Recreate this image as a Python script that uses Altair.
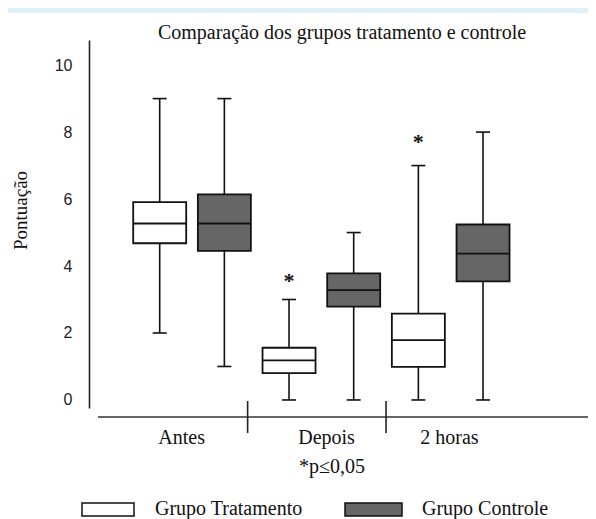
import altair as alt
import pandas as pd

groups = ["Antes", "Depois", "2 horas"]
series = ["Grupo Tratamento", "Grupo Controle"]

t_min = [2, 0, 0]
t_q1 = [4.68, 0.80, 0.99]
t_med = [5.27, 1.18, 1.79]
t_q3 = [5.91, 1.56, 2.58]
t_max = [9, 3, 7]

c_min = [1, 0, 0]
c_q1 = [4.45, 2.79, 3.54]
c_med = [5.27, 3.28, 4.37]
c_q3 = [6.14, 3.78, 5.24]
c_max = [9, 5, 8]

star_groups = ["Depois", "2 horas"]
star_values = [3.68, 7.81]

divider_pos = [0.43, 1.5]
label_pos = [-0.08, 1.04, 1.99]

y_ticks = [0, 2, 4, 6, 8, 10]

offset = {"Grupo Tratamento": -0.25, "Grupo Controle": 0.25}
rows = []
for s, mn, q1, md, q3, mx in [
    ("Grupo Tratamento", t_min, t_q1, t_med, t_q3, t_max),
    ("Grupo Controle", c_min, c_q1, c_med, c_q3, c_max),
]:
    for i, g in enumerate(groups):
        rows.append(dict(grupo=g, serie=s, pos=i + offset[s], mn=mn[i], q1=q1[i],
                         med=md[i], q3=q3[i], mx=mx[i]))
df = pd.DataFrame(rows)

stars = pd.DataFrame({"pos": [groups.index(g) + offset["Grupo Tratamento"] for g in star_groups],
                      "v": star_values})
dividers = pd.DataFrame({"pos": divider_pos})
labels = pd.DataFrame({"pos": label_pos, "label": groups})

xs = alt.Scale(domain=[-0.758, 3.023], nice=False, zero=False)
ys = alt.Scale(domain=[-0.24, 10.75], nice=False, zero=False)

SERIF = "Liberation Serif"
SANS = "Liberation Sans"
INK = "#111111"

X = alt.X("pos:Q", scale=xs, axis=None)

whisk = alt.Chart(df).mark_rule(color=INK, strokeWidth=1.6).encode(
    x=X,
    y=alt.Y("mn:Q", scale=ys, axis=alt.Axis(
        values=y_ticks, ticks=False, grid=False, domain=True, domainColor="#222222",
        domainWidth=1.6, labelFont=SANS, labelFontSize=16, labelColor="#222222",
        labelPadding=17, title="Pontuação", titleFont=SERIF, titleFontSize=19,
        titleFontWeight="normal", titleColor="#111111", titleX=-69, titleY=170,
        titleAngle=270, titleAlign="center", titleBaseline="middle")),
    y2="mx:Q",
)

boxes = alt.Chart(df).mark_bar(size=53, stroke=INK, strokeWidth=1.8).encode(
    x=X,
    y=alt.Y("q1:Q", scale=ys),
    y2="q3:Q",
    fill=alt.Fill("serie:N", scale=alt.Scale(domain=series, range=["#ffffff", "#666666"]),
                  legend=None),
)

medians = alt.Chart(df).mark_tick(orient="horizontal", size=53, thickness=1.8,
                                  color=INK, opacity=1).encode(
    x=X, y=alt.Y("med:Q", scale=ys))

cap_lo = alt.Chart(df).mark_tick(orient="horizontal", size=14, thickness=1.6,
                                 color=INK, opacity=1).encode(
    x=X, y=alt.Y("mn:Q", scale=ys))
cap_hi = alt.Chart(df).mark_tick(orient="horizontal", size=14, thickness=1.6,
                                 color=INK, opacity=1).encode(
    x=X, y=alt.Y("mx:Q", scale=ys))

star_marks = alt.Chart(stars).mark_text(text="*", font=SERIF, fontSize=22, fontWeight="bold",
                                        color=INK, baseline="alphabetic", dy=11).encode(
    x=X, y=alt.Y("v:Q", scale=ys))

base_line = alt.Chart(pd.DataFrame({"a": [0]})).mark_rule(color="#333333", strokeWidth=1.6).encode(
    x=alt.value(9), x2=alt.value(499), y=alt.value(377))

div_marks = alt.Chart(dividers).mark_rule(color="#222222", strokeWidth=1.6).encode(
    x=X, y=alt.value(361), y2=alt.value(393))

cat_labels = alt.Chart(labels).mark_text(font=SERIF, fontSize=20, color=INK,
                                         baseline="middle").encode(
    x=X, y=alt.value(398), text="label:N")

one = pd.DataFrame({"a": [0]})
title = alt.Chart(one).mark_text(text="Comparação dos grupos tratamento e controle",
                                 font=SERIF, fontSize=20, color=INK, baseline="middle").encode(
    x=alt.value(253), y=alt.value(-7))

pnote = alt.Chart(one).mark_text(text="*p≤0,05", font=SERIF, fontSize=20, color=INK,
                                 baseline="middle").encode(
    x=alt.value(243), y=alt.value(427))

band = alt.Chart(one).mark_rect(color="#dff0f8").encode(
    x=alt.value(-81), x2=alt.value(499), y=alt.value(-32), y2=alt.value(-27))

leg_df = pd.DataFrame({"serie": series})
leg_rects = alt.Chart(leg_df).mark_rect(stroke=INK, strokeWidth=1.5).encode(
    x=alt.X("serie:N", scale=alt.Scale(domain=series, range=[-7, 256]), axis=None),
    x2=alt.X2("serie_x2:Q"),
)
# legend swatches and texts
leg_white = alt.Chart(one).mark_rect(fill="#ffffff", stroke=INK, strokeWidth=1.5).encode(
    x=alt.value(-7), x2=alt.value(45), y=alt.value(463), y2=alt.value(476))
leg_dark = alt.Chart(one).mark_rect(fill="#666666", stroke=INK, strokeWidth=1.5).encode(
    x=alt.value(256), x2=alt.value(313), y=alt.value(463), y2=alt.value(476))
leg_t1 = alt.Chart(one).mark_text(text=series[0], font=SERIF, fontSize=20, color=INK,
                                  align="left", baseline="middle").encode(
    x=alt.value(66), y=alt.value(469))
leg_t2 = alt.Chart(one).mark_text(text=series[1], font=SERIF, fontSize=20, color=INK,
                                  align="left", baseline="middle").encode(
    x=alt.value(333), y=alt.value(469))

chart = alt.layer(
    band, whisk, boxes, medians, cap_lo, cap_hi, star_marks, base_line, div_marks,
    cat_labels, title, pnote, leg_white, leg_dark, leg_t1, leg_t2,
).properties(
    width=499, height=368,
    autosize=alt.AutoSizeParams(type="none"),
    padding={"left": 81, "top": 32, "right": 0, "bottom": 111},
    background="white",
).configure_view(stroke=None)

chart.save("out.html", embed_options={"renderer": "svg", "actions": False})
